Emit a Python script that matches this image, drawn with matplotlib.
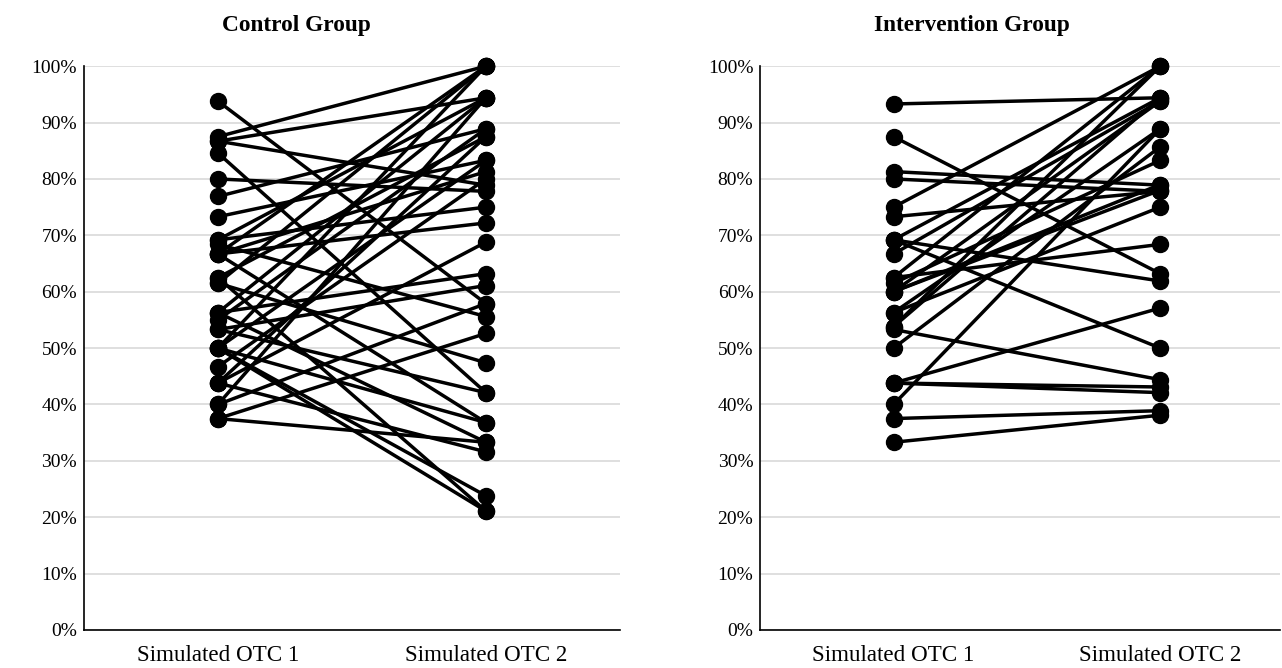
import matplotlib.pyplot as plt
from matplotlib.ticker import PercentFormatter

plt.rcParams['font.family'] = ['Liberation Serif', 'DejaVu Serif']

categories = ['Simulated OTC 1', 'Simulated OTC 2']

# control group: score at OTC 1 and OTC 2 per participant (%)
control_otc1 = [93.8, 87.5, 86.7, 86.7, 84.6, 80.0, 76.9, 73.3, 69.2, 69.2,
                68.4, 66.7, 66.7, 66.7, 66.7, 62.5, 62.5, 61.5, 61.5, 56.3,
                56.3, 56.3, 55.0, 53.3, 53.3, 50.0, 50.0, 50.0, 50.0, 50.0,
                46.7, 43.8, 43.8, 40.0, 40.0, 37.5, 37.5, 43.8]
control_otc2 = [57.9, 100.0, 94.4, 78.9, 42.1, 77.8, 88.9, 83.3, 75.0, 94.4,
                55.6, 100.0, 72.2, 36.8, 81.3, 87.5, 21.1, 100.0, 47.4, 94.4,
                63.2, 33.3, 88.9, 61.1, 42.1, 100.0, 83.3, 36.8, 23.8, 21.1,
                80.0, 68.8, 31.6, 94.4, 57.9, 52.6, 33.3, 87.5]

# intervention group
interv_otc1 = [93.3, 87.5, 81.3, 80.0, 75.0, 73.3, 69.2, 69.2, 69.2, 66.7,
               62.5, 62.5, 61.5, 60.0, 60.0, 56.3, 56.3, 53.8, 53.8, 53.3,
               50.0, 43.8, 43.8, 43.8, 40.0, 37.5, 33.3, 60.0]
interv_otc2 = [94.4, 63.2, 78.9, 77.8, 100.0, 77.8, 94.4, 50.0, 61.9, 93.8,
               100.0, 68.4, 83.3, 93.8, 79.0, 88.9, 75.0, 100.0, 94.4, 44.4,
               85.7, 57.1, 43.1, 42.1, 88.9, 38.9, 38.1, 78.0]

fig = plt.figure(figsize=(12.82, 6.68), dpi=100)
ax1 = fig.add_axes([0.0655, 0.0569, 0.418, 0.844])
ax2 = fig.add_axes([0.593, 0.0569, 0.4056, 0.844])


def draw(ax, a, b, xmax):
    for v1, v2 in zip(a, b):
        ax.plot([0, 1], [v1 / 100, v2 / 100], color='black', lw=2.5,
                marker='o', markersize=11.5, zorder=3, clip_on=False)
    ax.set_xlim(-0.5, xmax)
    ax.set_ylim(0, 1)
    ax.set_yticks([i / 10 for i in range(11)])
    ax.yaxis.set_major_formatter(PercentFormatter(1.0, decimals=0))
    ax.set_xticks([0, 1])
    ax.set_xticklabels(categories)
    ax.tick_params(axis='both', length=0, colors='black')
    ax.tick_params(axis='y', pad=5, labelsize=14)
    ax.tick_params(axis='x', pad=11, labelsize=16.6)
    ax.grid(axis='y', color='#d9d9d9', lw=1.2, zorder=0)
    ax.set_axisbelow(True)
    for s in ['top', 'right']:
        ax.spines[s].set_visible(False)
    for s in ['left', 'bottom']:
        ax.spines[s].set_color('black')
        ax.spines[s].set_linewidth(1.2)


draw(ax1, control_otc1, control_otc2, 1.5)
draw(ax2, interv_otc1, interv_otc2, 1.45)

# chart titles sit centred on the whole chart area, not the plot box
fig.text(296 / 1282, 1 - 25 / 668, 'Control Group', fontsize=16.8,
         fontweight='bold', ha='center', va='center')
fig.text(972 / 1282, 1 - 25 / 668, 'Intervention Group', fontsize=16.8,
         fontweight='bold', ha='center', va='center')

fig.savefig('out.png', dpi=100)
